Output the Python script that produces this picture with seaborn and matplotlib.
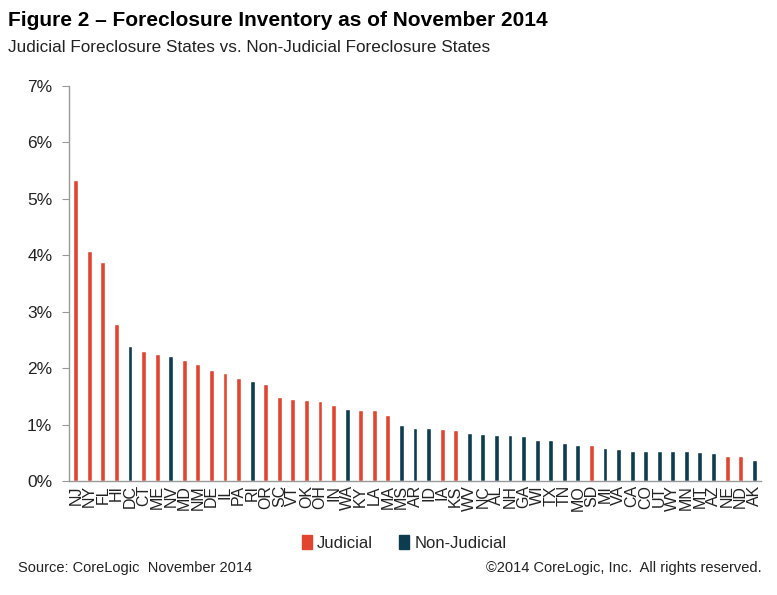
import numpy as np
import pandas as pd
import matplotlib
matplotlib.use("Agg")
import matplotlib.pyplot as plt
import seaborn as sns

states = ["NJ", "NY", "FL", "HI", "DC", "CT", "ME", "NV", "MD", "NM", "DE", "IL", "PA", "RI",
          "OR", "SC", "VT", "OK", "OH", "IN", "WA", "KY", "LA", "MA", "MS", "AR", "ID", "IA",
          "KS", "WV", "NC", "AL", "NH", "GA", "WI", "TX", "TN", "MO", "SD", "MI", "VA", "CA",
          "CO", "UT", "WY", "MN", "MT", "AZ", "NE", "ND", "AK"]
inventory = [5.33, 4.08, 3.87, 2.78, 2.39, 2.30, 2.25, 2.22, 2.14, 2.07, 1.96, 1.91, 1.82, 1.77,
             1.71, 1.48, 1.46, 1.43, 1.41, 1.34, 1.28, 1.26, 1.26, 1.16, 1.00, 0.94, 0.94, 0.92,
             0.90, 0.85, 0.83, 0.81, 0.81, 0.79, 0.72, 0.72, 0.67, 0.63, 0.63, 0.59, 0.56, 0.54,
             0.54, 0.54, 0.54, 0.54, 0.51, 0.49, 0.44, 0.44, 0.38]
non_judicial = {"DC", "NV", "RI", "WA", "MS", "AR", "ID", "WV", "NC", "AL", "NH", "GA", "WI",
                "TX", "TN", "MO", "MI", "VA", "CA", "CO", "UT", "WY", "MN", "MT", "AZ", "AK"}
kinds = ["Non-Judicial" if s in non_judicial else "Judicial" for s in states]
y_ticks = [0, 1, 2, 3, 4, 5, 6, 7]

RED = "#E2452F"
NAVY = "#0C3C4F"

df = pd.DataFrame({"state": states, "value": inventory, "kind": kinds})

sns.set_style("white")
plt.rcParams["font.family"] = ["Liberation Sans", "DejaVu Sans"]

fig = plt.figure(figsize=(7.77, 5.95), dpi=100)
ax = fig.add_axes([0.0888, 0.1916, 0.8906, 0.6644])

sns.barplot(data=df, x="state", y="value", hue="kind", order=states,
            hue_order=["Judicial", "Non-Judicial"], palette=[RED, NAVY],
            dodge=False, width=0.36, saturation=1, legend=False, ax=ax)

ax.set_ylim(0, 7)
ax.set_xlim(-0.5, len(states) - 0.5)
ax.set_yticks(y_ticks)
ax.set_yticklabels([f"{t}%" for t in y_ticks], fontsize=12.5, color="#222222")
ax.set_xticks(range(len(states)))
ax.set_xticklabels(states, rotation=90, fontsize=11.5, color="#222222")
ax.set_xticks(np.arange(-0.5, len(states)), minor=True)
ax.tick_params(axis="x", which="major", length=0, pad=3)
ax.tick_params(axis="x", which="minor", length=5, color="#999999", width=0.8, direction="out")
ax.tick_params(axis="y", length=5, color="#999999", width=0.8, direction="out", left=True, pad=7)
ax.set_xlabel("")
ax.set_ylabel("")
for side in ["top", "right"]:
    ax.spines[side].set_visible(False)
for side in ["left", "bottom"]:
    ax.spines[side].set_color("#999999")
    ax.spines[side].set_linewidth(1)

# titles
fig.text(0.010, 0.965, "Figure 2 \u2013 Foreclosure Inventory as of November 2014",
         fontsize=15, fontweight="bold", va="center", ha="left", color="black")
fig.text(0.010, 0.920, "Judicial Foreclosure States vs. Non-Judicial Foreclosure States",
         fontsize=12.3, va="center", ha="left", color="#222222")

# legend
handles = [plt.Rectangle((0, 0), 1, 1, color=RED), plt.Rectangle((0, 0), 1, 1, color=NAVY)]
fig.legend(handles, ["Judicial", "Non-Judicial"], loc="center", bbox_to_anchor=(0.52, 0.087),
           ncol=2, frameon=False, fontsize=12, handlelength=0.6, handleheight=0.9,
           handletextpad=0.3, columnspacing=1.6)

# source line
fig.text(0.023, 0.045, "Source: CoreLogic  November 2014", fontsize=10.5,
         va="center", ha="left", color="#222222")
fig.text(0.980, 0.045, "\u00a92014 CoreLogic, Inc.  All rights reserved.", fontsize=10.5,
         va="center", ha="right", color="#222222")

fig.savefig("out.png", dpi=100)
